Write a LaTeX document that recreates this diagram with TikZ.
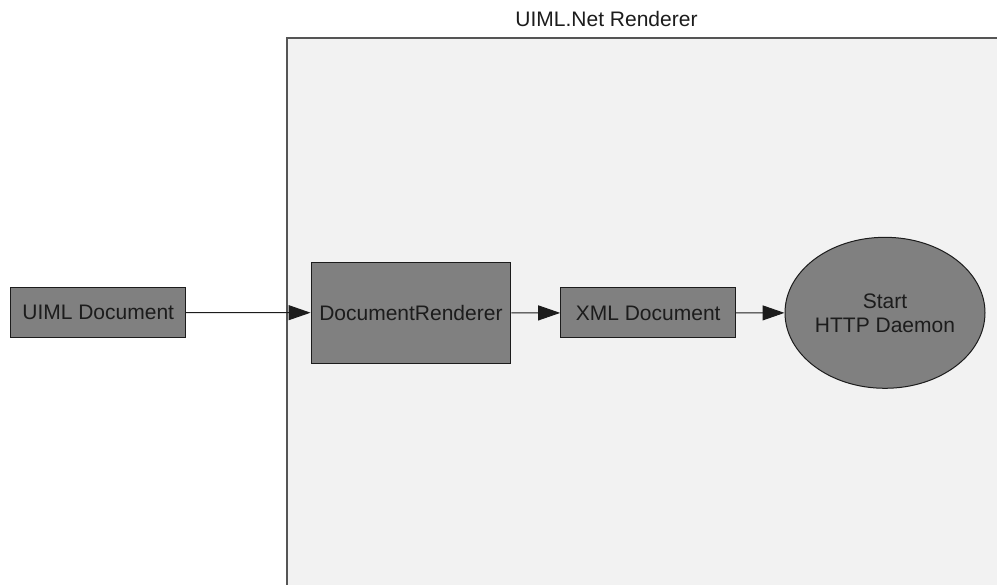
\documentclass[tikz,border=0pt]{standalone}
\usepackage{fontspec}
\setmainfont{Liberation Sans}
\usetikzlibrary{arrows.meta,shapes.geometric}
\definecolor{panelbg}{HTML}{F2F2F2}
\definecolor{panelline}{HTML}{555555}
\definecolor{nodefill}{HTML}{808080}
\definecolor{inkcol}{HTML}{1C1C1C}
\tikzset{
  container/.style={draw=panelline, line width=1.8pt, fill=panelbg, inner sep=0pt},
  procbox/.style={draw=inkcol, line width=1pt, fill=nodefill, text=inkcol,
    inner sep=0pt, font=\fontsize{21}{24}\selectfont},
  startoval/.style={ellipse, draw=inkcol, line width=1pt, fill=nodefill, text=inkcol,
    inner sep=0pt, align=center, font=\fontsize{21}{24}\selectfont},
  flow/.style={draw=inkcol, line width=1pt, -{Triangle[length=22pt,width=15pt]}},
  caption/.style={text=inkcol, inner sep=0pt, font=\fontsize{21}{24}\selectfont}
}
\begin{document}
\begin{tikzpicture}[x=1pt,y=-1pt]
  \useasboundingbox[fill=white] (0,0) rectangle (997,585);
  \clip (0,0) rectangle (997,585);

  % renderer panel, running past the right and bottom edges
  \node[container, anchor=north west, minimum width=740pt, minimum height=580pt]
    (renderer) at (286,37.5) {};
  \node[caption, anchor=base] (title) at (606.5,26.7) {UIML.Net Renderer};

  % pipeline
  \node[procbox, minimum width=175pt, minimum height=50.4pt] (uiml) at (98.2,312.5) {UIML Document};
  \node[procbox, minimum width=199.7pt, minimum height=101pt] (docr) at (410.9,312.8) {DocumentRenderer};
  \node[procbox, minimum width=175pt, minimum height=50pt] (xml) at (648.2,313) {XML Document};
  \node[startoval, minimum width=200pt, minimum height=151pt] (daemon) at (885,312.8) {Start\\HTTP Daemon};

  \draw[flow] (uiml) -- (docr);
  \draw[flow] (docr) -- (xml);
  \draw[flow] (xml) -- (daemon);
\end{tikzpicture}
\end{document}
